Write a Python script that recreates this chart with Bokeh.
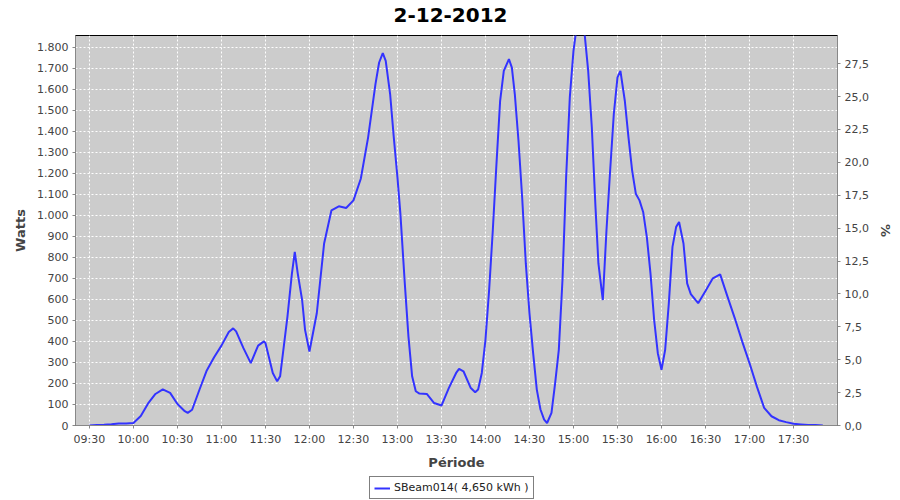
from bokeh.plotting import figure
from bokeh.layouts import column
from bokeh.models import Range1d, LinearAxis, FixedTicker, Legend, LegendItem, Label
from bokeh.embed import file_html
from bokeh.resources import INLINE

title_text = "2-12-2012"
series_name = "SBeam014( 4,650 kWh )"

times = ["09:30", "09:35", "09:40", "09:45", "09:50", "09:55", "10:00", "10:05", "10:10", "10:15",
         "10:20", "10:25", "10:30", "10:35", "10:37", "10:40", "10:45", "10:50", "10:55", "11:00",
         "11:05", "11:08", "11:10", "11:15", "11:20", "11:25", "11:29", "11:30", "11:35", "11:38",
         "11:40", "11:45", "11:48", "11:50", "11:52", "11:55", "11:57", "12:00", "12:05", "12:10",
         "12:15", "12:20", "12:25", "12:30", "12:35", "12:40", "12:45", "12:47.5", "12:50", "12:52",
         "12:55", "12:57.5", "13:00", "13:02", "13:05", "13:07.5", "13:10", "13:12.5", "13:15", "13:20",
         "13:25", "13:30", "13:35", "13:40", "13:42", "13:45", "13:50", "13:53", "13:55", "13:57.5",
         "14:00", "14:02.5", "14:05", "14:07.5", "14:10", "14:12.5", "14:16", "14:18", "14:20", "14:22.5",
         "14:25", "14:27.5", "14:30", "14:32.5", "14:35", "14:37.5", "14:40", "14:42", "14:45", "14:47.5",
         "14:50", "14:52.5", "14:55", "14:57.5", "15:00", "15:05", "15:10", "15:12.5", "15:15", "15:17",
         "15:20", "15:22.5", "15:25", "15:27.5", "15:30", "15:32", "15:35", "15:37.5", "15:40", "15:42.5",
         "15:45", "15:47.5", "15:50", "15:52.5", "15:55", "15:57.5", "16:00", "16:02.5", "16:05", "16:07.5",
         "16:10", "16:12", "16:15", "16:17.5", "16:20", "16:25", "16:30", "16:35", "16:40", "16:45",
         "16:50", "16:55", "17:00", "17:05", "17:10", "17:15", "17:20", "17:25", "17:30", "17:35",
         "17:40", "17:45", "17:50"]
watts = [0, 2, 3, 6, 10, 9, 12, 45, 105, 150,
         172, 155, 102, 68, 60, 75, 170, 262, 325, 380,
         445, 462, 448, 368, 297, 380, 400, 392, 250, 210,
         234, 518, 720, 826, 724, 597, 455, 352, 534, 866,
         1024, 1043, 1035, 1071, 1174, 1371, 1624, 1727, 1772, 1735,
         1577, 1371, 1180, 1008, 676, 423, 234, 163, 152, 150,
         107, 95, 178, 250, 269, 258, 178, 158, 171, 250,
         408, 645, 929, 1245, 1545, 1687, 1743, 1703, 1577, 1356,
         1087, 771, 534, 344, 171, 76, 28, 12, 60, 202,
         360, 692, 1182, 1561, 1782, 2050, 1690, 1419, 1040, 771,
         597, 929, 1213, 1482, 1656, 1687, 1545, 1371, 1213, 1103,
         1071, 1016, 897, 724, 502, 344, 265, 360, 581, 850,
         945, 968, 866, 676, 625, 582, 640, 700, 719, 613,
         510, 400, 297, 186, 84, 44, 25, 16, 8, 5,
         2, 2, 0]

x_tick_labels = ["09:30", "10:00", "10:30", "11:00", "11:30", "12:00", "12:30", "13:00", "13:30",
                 "14:00", "14:30", "15:00", "15:30", "16:00", "16:30", "17:00", "17:30"]
w_ticks = [0, 100, 200, 300, 400, 500, 600, 700, 800, 900, 1000, 1100, 1200, 1300, 1400, 1500,
           1600, 1700, 1800]
w_tick_labels = ["0", "100", "200", "300", "400", "500", "600", "700", "800", "900", "1.000",
                 "1.100", "1.200", "1.300", "1.400", "1.500", "1.600", "1.700", "1.800"]
pct_ticks = [0.0, 2.5, 5.0, 7.5, 10.0, 12.5, 15.0, 17.5, 20.0, 22.5, 25.0, 27.5]
pct_tick_labels = ["0,0", "2,5", "5,0", "7,5", "10,0", "12,5", "15,0", "17,5", "20,0", "22,5",
                   "25,0", "27,5"]

x_min, x_max = "09:20.5", "18:00"
w_max = 1855.5
pct_max = 29.64


def to_min(s):
    h, m = s.split(":")
    return int(h) * 60 + float(m)


xs = [to_min(t) for t in times]
x_ticks = [to_min(t) for t in x_tick_labels]

FONT = "DejaVu Sans"
LABEL_COLOR = "#444444"
AXIS_COLOR = "#888888"
LINE_COLOR = "#3333ff"
W = 900
FRAME_LEFT = 75   # the column aligns every strip's frame with the chart's frame

# title strip
pt = figure(width=W, height=30, output_backend="svg", toolbar_location=None,
            x_axis_type=None, y_axis_type=None, x_range=Range1d(0, 1), y_range=Range1d(0, 1),
            min_border=0, outline_line_color=None, background_fill_color="white",
            border_fill_color="white")
pt.xgrid.visible = False
pt.ygrid.visible = False
pt.add_layout(Label(x=W / 2 - FRAME_LEFT, y=16, x_units="screen", y_units="screen",
                    text=title_text, text_align="center", text_baseline="middle",
                    text_font=FONT, text_font_size="20px", text_font_style="bold",
                    text_color="black"))

# main chart
p = figure(width=W, height=442, output_backend="svg", toolbar_location=None,
           x_range=Range1d(to_min(x_min), to_min(x_max)), y_range=Range1d(0, w_max),
           min_border_left=FRAME_LEFT, min_border_right=63, min_border_top=5, min_border_bottom=45,
           background_fill_color="#cccccc", border_fill_color="white",
           outline_line_color="black", outline_line_width=1)
p.extra_y_ranges = {"pct": Range1d(0, pct_max)}

r = p.line(xs, watts, line_color=LINE_COLOR, line_width=2)

p.xaxis.ticker = FixedTicker(ticks=x_ticks)
p.xaxis.major_label_overrides = {t: l for t, l in zip(x_ticks, x_tick_labels)}
p.yaxis.ticker = FixedTicker(ticks=w_ticks)
p.yaxis.major_label_overrides = {t: l for t, l in zip(w_ticks, w_tick_labels)}
p.xaxis.axis_label = "Période"
p.yaxis.axis_label = "Watts"

pax = LinearAxis(y_range_name="pct", ticker=FixedTicker(ticks=pct_ticks),
                 major_label_overrides={t: l for t, l in zip(pct_ticks, pct_tick_labels)},
                 axis_label="%")
p.add_layout(pax, "right")

for ax in p.axis:
    ax.axis_line_color = AXIS_COLOR
    ax.major_tick_line_color = AXIS_COLOR
    ax.major_tick_out = 3
    ax.major_tick_in = 0
    ax.minor_tick_line_color = None
    ax.major_label_text_font = FONT
    ax.major_label_text_font_size = "11px"
    ax.major_label_text_color = LABEL_COLOR
    ax.major_label_standoff = 4
    ax.axis_label_text_font = FONT
    ax.axis_label_text_font_size = "13px"
    ax.axis_label_text_font_style = "bold"
    ax.axis_label_text_color = LABEL_COLOR
    ax.axis_label_standoff = 6

p.xgrid.ticker = FixedTicker(ticks=x_ticks)
p.ygrid.ticker = FixedTicker(ticks=w_ticks)
for g in (p.xgrid, p.ygrid):
    g.grid_line_color = "white"
    g.grid_line_dash = "2 2"
    g.grid_line_width = 1

# legend strip below the chart (the series is out of this strip's view; only its legend shows)
pl = figure(width=W, height=28, output_backend="svg", toolbar_location=None,
            x_axis_type=None, y_axis_type=None, x_range=Range1d(0, 1), y_range=Range1d(-1, 0),
            min_border=0, outline_line_color=None, background_fill_color="white",
            border_fill_color="white")
pl.xgrid.visible = False
pl.ygrid.visible = False
r_leg = pl.line(xs, watts, line_color=LINE_COLOR, line_width=2)
legend = Legend(items=[LegendItem(label=series_name, renderers=[r_leg])],
                orientation="horizontal", location=(369 - FRAME_LEFT, 1),
                border_line_color="black", border_line_width=1,
                background_fill_color="white", background_fill_alpha=1.0,
                label_text_font=FONT, label_text_font_size="11px", label_text_color="#222222",
                glyph_width=16, glyph_height=12, padding=4, spacing=2, margin=0,
                label_standoff=4)
pl.add_layout(legend, "center")

open("out.html", "w").write(file_html(column(pt, p, pl, spacing=0), INLINE))
